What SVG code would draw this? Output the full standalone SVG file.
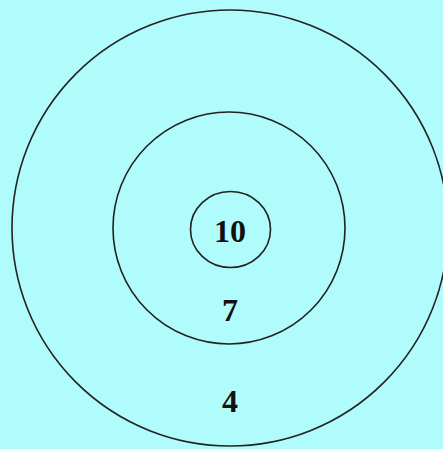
<svg xmlns="http://www.w3.org/2000/svg" width="443" height="449" viewBox="0 0 443 449">
<style>
.ring{fill:none;stroke:#222;stroke-width:1.6}
.lbl{font-family:"Liberation Serif",serif;font-size:32px;font-weight:bold;fill:#111;text-anchor:middle}
</style>
<rect width="443" height="449" fill="#b0fbfb"/>
<g id="outer"><circle class="ring" cx="230" cy="228" r="218"/><text class="lbl" x="230" y="412">4</text></g>
<g id="middle"><circle class="ring" cx="229" cy="228" r="116"/><text class="lbl" x="230" y="321">7</text></g>
<g id="inner"><ellipse class="ring" cx="230.5" cy="229.5" rx="40" ry="38"/><text class="lbl" x="230" y="242">10</text></g>
</svg>
